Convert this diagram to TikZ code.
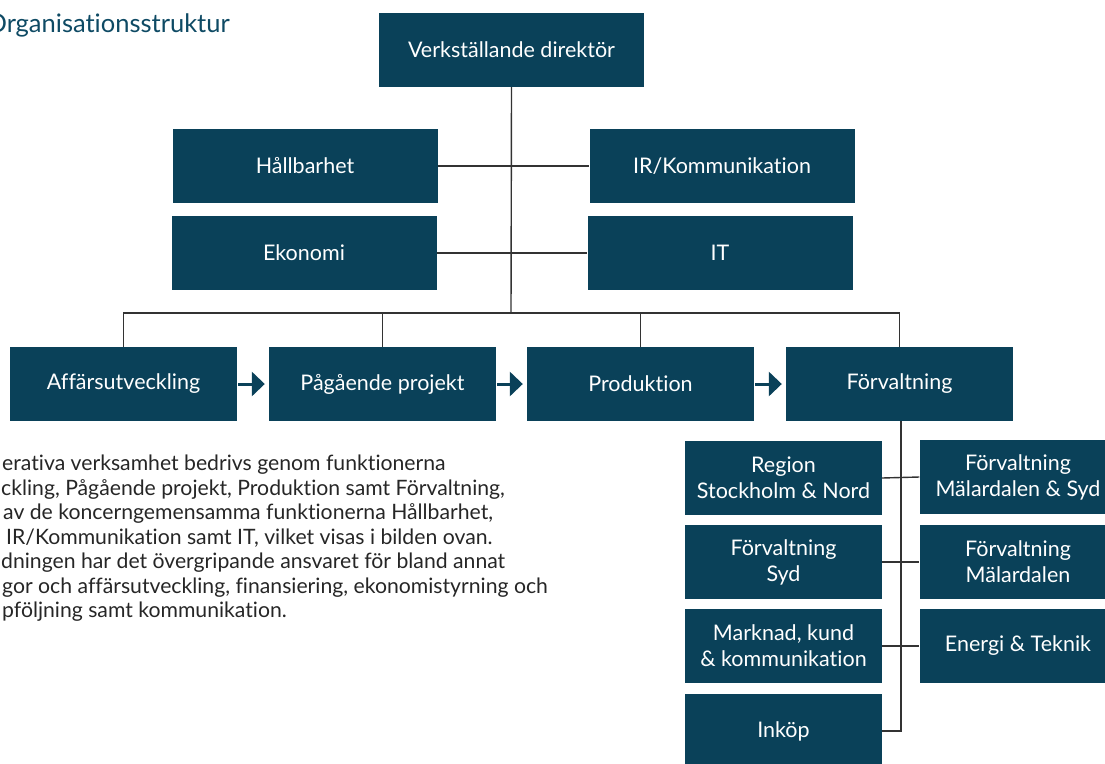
\documentclass[tikz,border=0pt]{standalone}
\usepackage{fontspec}
\setmainfont{Lato}[Ligatures={NoCommon}]
\usetikzlibrary{arrows.meta}
\definecolor{boxc}{HTML}{0A4159}
\definecolor{titlec}{HTML}{0E4A64}
\definecolor{linec}{HTML}{333333}
\definecolor{textc}{HTML}{262626}
\begin{document}
\begin{tikzpicture}[x=1pt,y=-1pt,
  box/.style={fill=boxc, text=white, inner sep=0pt, align=center,
    font=\fontsize{21.5}{26}\selectfont},
  wide/.style={minimum width=265pt, minimum height=74pt},
  row/.style={minimum width=227pt, minimum height=74pt},
  sub/.style={minimum width=197pt, minimum height=74pt},
  link/.style={draw=linec, line width=1.4pt},
  flow/.style={draw=boxc, line width=3pt, shorten <=1pt, shorten >=4pt,
    -{Triangle[length=13pt,width=24pt]}},
  para/.style={anchor=base west, inner sep=0pt, text=textc,
    font=\fontsize{21.2}{24}\selectfont}]
\useasboundingbox (0,0) rectangle (1105,763);
\clip (0,0) rectangle (1105,763);

% heading
\node[anchor=base east, inner sep=0pt, text=titlec,
  font=\fontsize{25.5}{30}\selectfont] (title) at (230,32) {Organisationsstruktur};

% management and group functions
\node[box, wide] (vd)   at (511.5,50)  {Verkställande direktör};
\node[box, wide] (hall) at (305,166)   {Hållbarhet};
\node[box, wide] (ir)   at (722,166)   {IR/Kommunikation};
\node[box, wide] (eko)  at (304,253)   {Ekonomi};
\node[box, wide] (it)   at (720,253)   {IT};

% operating functions
\node[box, row] (aff)  at (123.5,384) {Affärsutveckling};
\node[box, row] (pag)  at (382.5,384) {Pågående projekt};
\node[box, row] (prod) at (640.5,384) {Produktion};
\node[box, row] (forv) at (899.5,384) {Förvaltning};

% property management regions
\node[box, sub] (reg)  at (783.5,478) {Region\\Stockholm \& Nord};
\node[box, sub] (fms)  at (1018,477)  {Förvaltning\\Mälardalen \& Syd};
\node[box, sub] (fsyd) at (783.5,562) {Förvaltning\\Syd};
\node[box, sub] (fmal) at (1018,562)  {Förvaltning\\Mälardalen};
\node[box, sub] (mkn)  at (783.5,646) {Marknad, kund\\\& kommunikation};
\node[box, sub] (ent)  at (1018,646)  {Energi \& Teknik};
\node[box, sub] (ink)  at (783.5,731) {Inköp};

% bus and trunk coordinates
\coordinate (bus) at (511,313);
\coordinate (subend) at (901,731);

% connectors from the managing director
\draw[link] (vd.south) -- (bus);
\draw[link] (hall.east) -- (ir.west);
\draw[link] (eko.east) -- (it.west);
\draw[link] (aff.north) |- (bus) -| (forv.north);
\draw[link] (pag.north) -- (pag.north |- bus);
\draw[link] (prod.north) -- (prod.north |- bus);

% connectors below Förvaltning
\draw[link] (forv.south -| subend) -- (subend) -- (ink.east);
\draw[link] (reg.east) -- (fms.west);
\draw[link] (fsyd.east) -- (fmal.west);
\draw[link] (mkn.east) -- (ent.west);

% value chain arrows
\draw[flow] (aff.east) -- (pag.west);
\draw[flow] (pag.east) -- (prod.west);
\draw[flow] (prod.east) -- (forv.west);

% description
\node[para] (p1) at (2,470.5)   {erativa verksamhet bedrivs genom funktionerna};
\node[para] (p2) at (1,495)     {ckling, Pågående projekt, Produktion samt Förvaltning,};
\node[para] (p3) at (3,519.5)   {av de koncerngemensamma funktionerna Hållbarhet,};
\node[para] (p4) at (6,544)     {IR/Kommunikation samt IT, vilket visas i bilden ovan.};
\node[para] (p5) at (1,568.5)   {dningen har det övergripande ansvaret för bland annat};
\node[para] (p6) at (2,593)     {gor och affärsutveckling, finansiering, ekonomistyrning och};
\node[para] (p7) at (2,617.5)   {pföljning samt kommunikation.};
\end{tikzpicture}
\end{document}
